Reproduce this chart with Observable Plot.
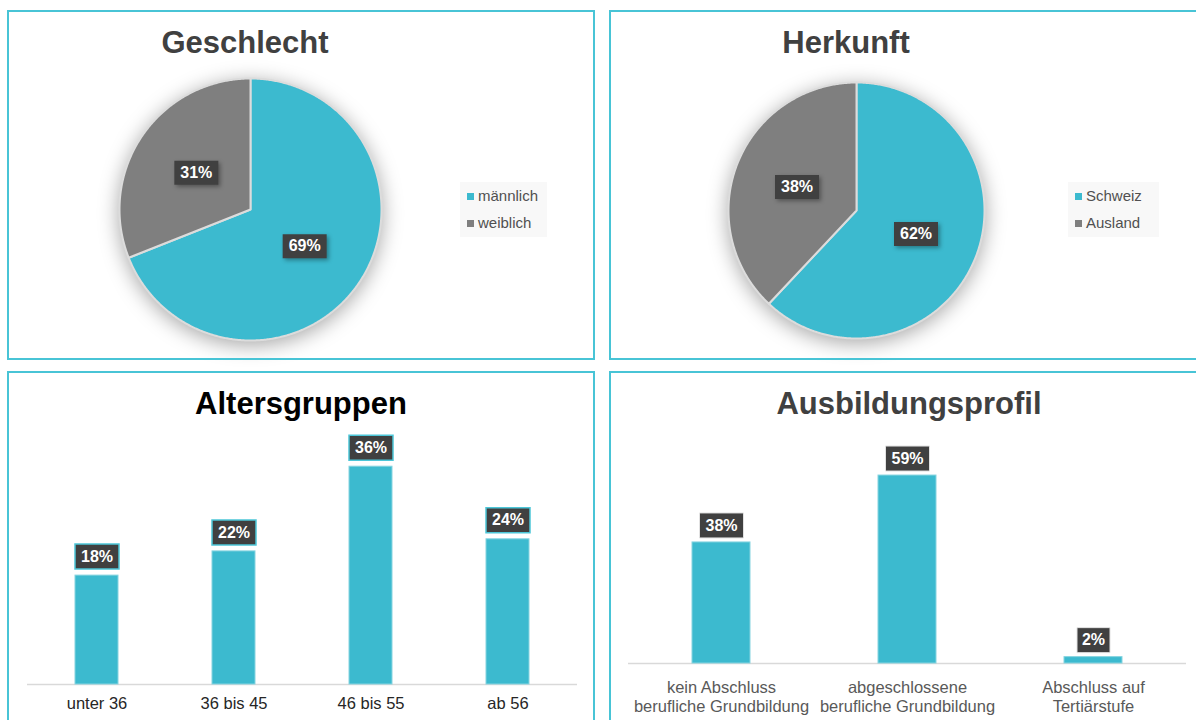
<!DOCTYPE html>
<html><head><meta charset="utf-8">
<script src="https://cdn.jsdelivr.net/npm/d3@7"></script>
<script src="https://cdn.jsdelivr.net/npm/@observablehq/plot@0.6"></script>
<style>
body{margin:0;background:#fff;}
#page{position:relative;width:1196px;height:720px;overflow:hidden;font-family:"Liberation Sans",Arial,sans-serif;background:#fff;}
.panel{position:absolute;border:2px solid #48c4d6;box-sizing:border-box;pointer-events:none;}
.title{position:absolute;width:500px;text-align:center;font-weight:bold;font-size:31px;line-height:31px;white-space:nowrap;}
.chart{position:absolute;}
.pie g[aria-label="line"]{filter:drop-shadow(0 4px 10px rgba(0,0,0,0.34));}
.pie g[aria-label="dot"]{filter:drop-shadow(2px 2px 2px rgba(0,0,0,0.35));}
.legend{position:absolute;background:#f8f8f8;}
.legend .item{position:absolute;font-size:15px;color:#505050;line-height:15px;white-space:nowrap;}
.legend .sw{position:absolute;width:7px;height:7px;}
</style></head>
<body><div id="page"></div>
<script>
// ---- data ----
const genderCats = ["männlich", "weiblich"];
const genderVals = [0.69, 0.31];
const originCats = ["Schweiz", "Ausland"];
const originVals = [0.62, 0.38];
const ageCats = ["unter 36", "36 bis 45", "46 bis 55", "ab 56"];
const ageVals = [0.18, 0.22, 0.36, 0.24];
const eduCats = ["kein Abschluss\nberufliche Grundbildung", "abgeschlossene\nberufliche Grundbildung", "Abschluss auf\nTertiärstufe"];
const eduVals = [0.38, 0.59, 0.02];
const titles = ["Geschlecht", "Herkunft", "Altersgruppen", "Ausbildungsprofil"];

const CYAN = "#3cbacf", GREY = "#7f7f7f", DARK = "#404040";
const pct = d3.format(".0%");
const page = document.getElementById("page");
const badge = (w, h = 24) => ({draw(ctx) { ctx.rect(-w / 2, -h / 2, w, h); }});
const badgeW = s => 11 * (s.length + 1);

function place(el, left, top, cls) {
  const div = document.createElement("div");
  div.className = "chart " + (cls || "");
  div.style.left = left + "px"; div.style.top = top + "px";
  div.appendChild(el);
  page.appendChild(div);
  return div;
}

function pie({cats, vals, left, top, width, height, cx, cy, r}) {
  const arcs = d3.pie().sort(null).value(d => d.v)(cats.map((c, i) => ({c, v: vals[i]})));
  const pts = [];
  for (const a of arcs) {
    pts.push({c: a.data.c, x: 0, y: 0});
    const n = Math.max(2, Math.ceil((a.endAngle - a.startAngle) / (Math.PI / 360)));
    for (let k = 0; k <= n; k++) {
      const t = a.startAngle + (a.endAngle - a.startAngle) * k / n;
      pts.push({c: a.data.c, x: Math.sin(t), y: Math.cos(t)});
    }
    pts.push({c: a.data.c, x: 0, y: 0});
  }
  const labels = arcs.map(a => {
    const t = (a.startAngle + a.endAngle) / 2;
    return {c: a.data.c, x: 0.5 * Math.sin(t), y: 0.5 * Math.cos(t), label: pct(a.data.v)};
  });
  const svg = Plot.plot({
    width, height, margin: 0,
    style: {fontFamily: "Liberation Sans, Arial, sans-serif", background: "transparent", overflow: "visible"},
    x: {domain: [-1, 1], range: [cx - r, cx + r], axis: null},
    y: {domain: [-1, 1], range: [cy + r, cy - r], axis: null},
    color: {domain: cats, range: [CYAN, GREY]},
    marks: [
      Plot.line(pts, {x: "x", y: "y", z: "c", fill: "c", stroke: "#dcdcdc", strokeWidth: 2, curve: "linear"}),
      ...labels.map(d => Plot.dot([d], {x: "x", y: "y", r: 5, symbol: badge(badgeW(d.label)), fill: DARK, stroke: "none"})),
      Plot.text(labels, {x: "x", y: "y", text: "label", fill: "white", fontWeight: "bold", fontSize: 16})
    ]
  });
  place(svg, left, top, "pie");
}

function legend({cats, left, top, width, height, swX, txtX, rows}) {
  const box = document.createElement("div");
  box.className = "legend";
  Object.assign(box.style, {left: left + "px", top: top + "px", width: width + "px", height: height + "px"});
  cats.forEach((c, i) => {
    const sw = document.createElement("div");
    sw.className = "sw";
    Object.assign(sw.style, {left: swX + "px", top: (rows[i] - 3.5) + "px", background: [CYAN, GREY][i]});
    const t = document.createElement("div");
    t.className = "item";
    t.textContent = c;
    Object.assign(t.style, {left: txtX + "px", top: (rows[i] - 8) + "px"});
    box.appendChild(sw); box.appendChild(t);
  });
  page.appendChild(box);
}

function bars({cats, vals, left, top, width, height, ml, mr, mt, mb, ymax, pin, badgeStroke, badgeSW, labelDy, tickDy, tickColor, tickSize, tickLH}) {
  const data = cats.map((c, i) => ({cat: c, value: vals[i], label: pct(vals[i])}));
  const svg = Plot.plot({
    width, height, marginLeft: ml, marginRight: mr, marginTop: mt, marginBottom: mb,
    style: {fontFamily: "Liberation Sans, Arial, sans-serif", background: "transparent", overflow: "visible"},
    x: {domain: cats, paddingInner: pin, paddingOuter: pin / 2, axis: null},
    y: {domain: [0, ymax], axis: null},
    marks: [
      Plot.ruleY([0], {stroke: "#d9d9d9", strokeWidth: 1.5}),
      Plot.barY(data, {x: "cat", y: "value", fill: CYAN, stroke: "#86d4e0", strokeWidth: 1}),
      ...data.map(d => Plot.dot([d], {x: "cat", y: "value", dy: labelDy, r: 5, symbol: badge(badgeW(d.label), 25), fill: DARK, stroke: badgeStroke, strokeWidth: badgeSW})),
      Plot.text(data, {x: "cat", y: "value", dy: labelDy, text: "label", fill: "white", fontWeight: "bold", fontSize: 16}),
      Plot.text(data, {x: "cat", y: () => 0, text: "cat", dy: tickDy, lineAnchor: "top", lineHeight: tickLH, fill: tickColor, fontSize: tickSize})
    ]
  });
  place(svg, left, top);
}

// ---- charts ----
pie({cats: genderCats, vals: genderVals, left: 0, top: 0, width: 600, height: 365, cx: 250, cy: 209, r: 131});
pie({cats: originCats, vals: originVals, left: 600, top: 0, width: 596, height: 365, cx: 256, cy: 210, r: 128});
legend({cats: genderCats, left: 460, top: 182, width: 87, height: 55, swX: 7, txtX: 18, rows: [14, 41]});
legend({cats: originCats, left: 1068, top: 182, width: 91, height: 55, swX: 7, txtX: 18, rows: [14, 41]});

bars({cats: ageCats, vals: ageVals, left: 0, top: 365, width: 600, height: 355,
  ml: 27, mr: 23, mt: 77, mb: 36, ymax: 0.4, pin: 0.687,
  badgeStroke: "#4cc6d8", badgeSW: 1.5, labelDy: -19, tickDy: 11.5, tickColor: "#262626", tickSize: 16.5, tickLH: 1.15});
bars({cats: eduCats, vals: eduVals, left: 600, top: 365, width: 596, height: 355,
  ml: 28, mr: 10, mt: 75, mb: 57, ymax: 0.7, pin: 0.688,
  badgeStroke: "#e2e2e2", badgeSW: 1, labelDy: -17, tickDy: 16.3, tickColor: "#595959", tickSize: 16.5, tickLH: 1.15});

// ---- titles ----
const titlePos = [[245, 27, "#404040"], [846, 27, "#404040"], [301, 388, "#000000"], [909, 388, "#404040"]];
titles.forEach((t, i) => {
  const d = document.createElement("div");
  d.className = "title";
  d.textContent = t;
  Object.assign(d.style, {left: (titlePos[i][0] - 250) + "px", top: titlePos[i][1] + "px", color: titlePos[i][2]});
  page.appendChild(d);
});

// ---- panel frames ----
[[7, 10, 588, 350], [609, 10, 600, 350], [7, 371, 588, 400], [609, 371, 600, 400]].forEach(([l, t, w, h]) => {
  const p = document.createElement("div");
  p.className = "panel";
  Object.assign(p.style, {left: l + "px", top: t + "px", width: w + "px", height: h + "px"});
  page.appendChild(p);
});
</script>
</body></html>
